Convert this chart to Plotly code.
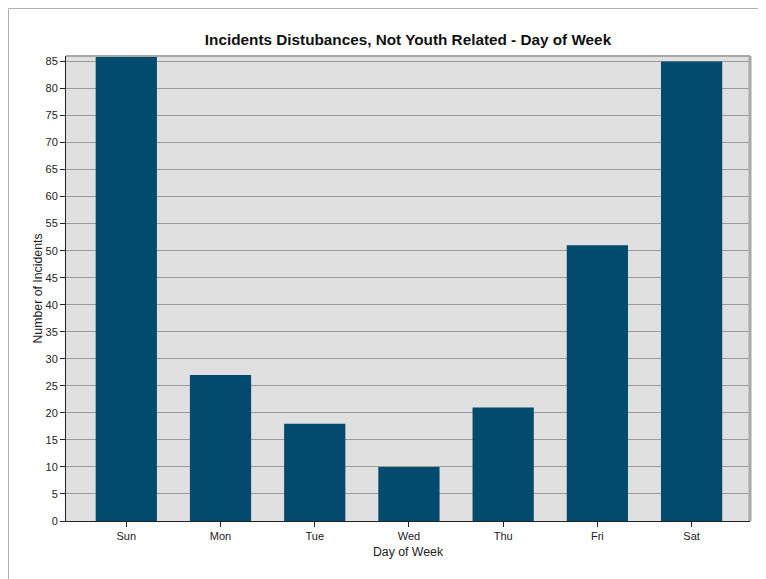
import plotly.graph_objs as go

days = ["Sun", "Mon", "Tue", "Wed", "Thu", "Fri", "Sat"]
incidents = [86, 27, 18, 10, 21, 51, 85]
y_ticks = list(range(0, 90, 5))

W, H = 758, 571
L, R, T, B = 58, 16, 48, 58
pw, ph = W - L - R, H - T - B

fig = go.Figure()

fig.add_trace(go.Bar(
    x=list(range(len(days))),
    y=incidents,
    marker=dict(color="#024b6f", line_width=0),
    width=0.65,
))

# grey border on top / right of the plot area
fig.add_shape(type="line", xref="paper", yref="paper", x0=0, x1=1, y0=1, y1=1,
              line=dict(color="#a8a8a8", width=2), layer="above")
fig.add_shape(type="line", xref="paper", yref="paper", x0=1, x1=1, y0=0, y1=1,
              line=dict(color="#a8a8a8", width=3), layer="above")

# outer frame (only top and left edges visible)
fx = (0.5 - L) / pw
fy = 1 + (T - 0.5) / ph
fig.add_shape(type="line", xref="paper", yref="paper", x0=fx, x1=1.05, y0=fy, y1=fy,
              line=dict(color="#b0b0b0", width=1), layer="above")
fig.add_shape(type="line", xref="paper", yref="paper", x0=fx, x1=fx, y0=-0.2, y1=fy,
              line=dict(color="#b0b0b0", width=1), layer="above")

fig.update_layout(
    width=W,
    height=H,
    margin=dict(l=L, r=R, t=T, b=B),
    paper_bgcolor="white",
    plot_bgcolor="#e0e0e0",
    showlegend=False,
    font=dict(family="Liberation Sans, Arial, sans-serif", size=11, color="#222"),
    title=dict(
        text="<b>Incidents Distubances, Not Youth Related - Day of Week</b>",
        x=0.5, xref="paper", xanchor="center",
        y=1 - 32 / H, yanchor="middle",
        font=dict(size=15.3, color="#111"),
    ),
    xaxis=dict(
        range=[-0.64, 6.62],
        tickmode="array",
        tickvals=list(range(len(days))),
        ticktext=days,
        ticks="outside", ticklen=5, tickcolor="#222",
        showline=True, linecolor="#222", linewidth=1,
        showgrid=False, zeroline=False,
        title=dict(text="Day of Week", font=dict(size=12.3), standoff=6),
    ),
    yaxis=dict(
        range=[0, 86],
        tickmode="array",
        tickvals=y_ticks,
        ticks="outside", ticklen=5, tickcolor="#222",
        showline=True, linecolor="#222", linewidth=1,
        showgrid=True, gridcolor="#9a9a9a", gridwidth=1,
        zeroline=False,
        title=dict(text="Number of Incidents", font=dict(size=12.3), standoff=0),
    ),
)

fig.write_html("out.html")
